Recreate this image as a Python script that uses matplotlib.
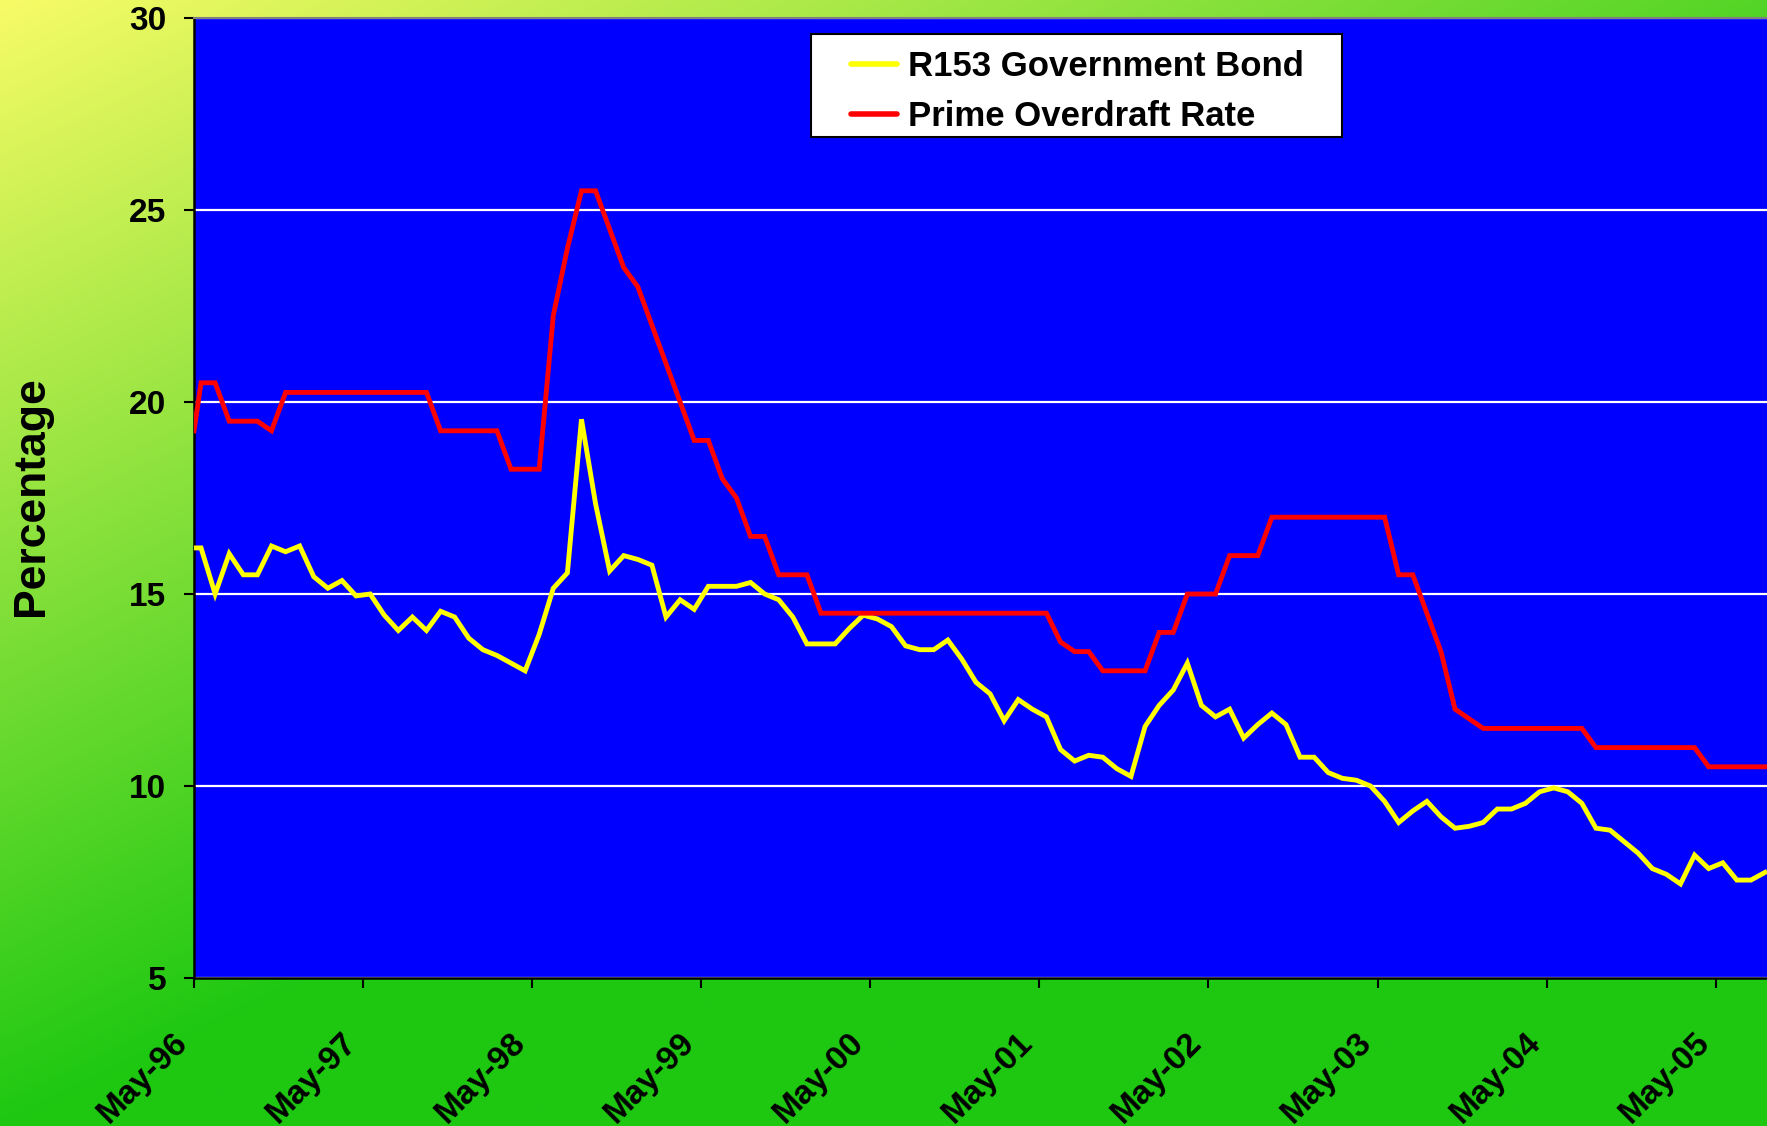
import numpy as np
import matplotlib
matplotlib.use("Agg")
import matplotlib.pyplot as plt
from matplotlib.patches import Rectangle

# ---------------- data ----------------
series_names = ["R153 Government Bond", "Prime Overdraft Rate"]
tick_labels = ["May-96", "May-97", "May-98", "May-99", "May-00",
               "May-01", "May-02", "May-03", "May-04", "May-05"]
tick_months = [0, 12, 24, 36, 48, 60, 72, 84, 96, 108]

# observation time in months after May-96 (first reading at start, then monthly mid-points)
obs_month = np.concatenate([[0.0], np.arange(112) + 0.5])

r153 = [16.2,
        16.2, 15.0, 16.05, 15.5, 15.5, 16.25, 16.1, 16.25, 15.45, 15.15,
        15.35, 14.95, 15.0, 14.45, 14.05, 14.4, 14.05, 14.55, 14.4, 13.85,
        13.55, 13.4, 13.2, 13.0, 13.95, 15.15, 15.55, 19.55, 17.35, 15.6,
        16.0, 15.9, 15.75, 14.4, 14.85, 14.6, 15.2, 15.2, 15.2, 15.3,
        15.0, 14.85, 14.4, 13.7, 13.7, 13.7, 14.1, 14.45, 14.35, 14.15,
        13.65, 13.55, 13.55, 13.8, 13.3, 12.7, 12.4, 11.7, 12.25, 12.0,
        11.8, 10.95, 10.65, 10.8, 10.75, 10.45, 10.25, 11.55, 12.1, 12.5,
        13.2, 12.1, 11.8, 12.0, 11.25, 11.6, 11.9, 11.6, 10.75, 10.75,
        10.35, 10.2, 10.15, 10.0, 9.6, 9.05, 9.35, 9.6, 9.2, 8.9,
        8.95, 9.05, 9.4, 9.4, 9.55, 9.85, 9.95, 9.85, 9.55, 8.9,
        8.85, 8.55, 8.25, 7.85, 7.7, 7.45, 8.2, 7.85, 8.0, 7.55,
        7.55, 7.75]

prime = [19.25,
         20.5, 20.5, 19.5, 19.5, 19.5, 19.25, 20.25, 20.25, 20.25, 20.25,
         20.25, 20.25, 20.25, 20.25, 20.25, 20.25, 20.25, 19.25, 19.25, 19.25,
         19.25, 19.25, 18.25, 18.25, 18.25, 22.25, 24.0, 25.5, 25.5, 24.5,
         23.5, 23.0, 22.0, 21.0, 20.0, 19.0, 19.0, 18.0, 17.5, 16.5,
         16.5, 15.5, 15.5, 15.5, 14.5, 14.5, 14.5, 14.5, 14.5, 14.5,
         14.5, 14.5, 14.5, 14.5, 14.5, 14.5, 14.5, 14.5, 14.5, 14.5,
         14.5, 13.75, 13.5, 13.5, 13.0, 13.0, 13.0, 13.0, 14.0, 14.0,
         15.0, 15.0, 15.0, 16.0, 16.0, 16.0, 17.0, 17.0, 17.0, 17.0,
         17.0, 17.0, 17.0, 17.0, 17.0, 15.5, 15.5, 14.5, 13.5, 12.0,
         11.75, 11.5, 11.5, 11.5, 11.5, 11.5, 11.5, 11.5, 11.5, 11.0,
         11.0, 11.0, 11.0, 11.0, 11.0, 11.0, 11.0, 10.5, 10.5, 10.5,
         10.5, 10.5]

y_ticks = [5, 10, 15, 20, 25, 30]
y_label = "Percentage"

# ---------------- figure ----------------
W, H = 1767, 1126
fig = plt.figure(figsize=(W / 100, H / 100), dpi=100)

# background gradient (yellow top-left -> green)
bg = fig.add_axes([0, 0, 1, 1], zorder=-10)
gh, gw = 226, 354
xx, yy = np.meshgrid(np.linspace(0, 1, gw), np.linspace(0, 1, gh))
t = np.clip(0.75 * xx + yy, 0, 1)[..., None]
c0 = np.array([247, 251, 102]) / 255
c1 = np.array([30, 200, 18]) / 255
img = c0 + t * (c1 - c0)
bg.imshow(img, extent=[0, 1, 0, 1], aspect="auto", origin="upper",
          interpolation="bilinear")
bg.set_axis_off()

FONT = "Liberation Sans"

ax = fig.add_axes([194 / W, (H - 978) / H, 1573 / W, 960 / H])
ax.set_facecolor("#0000FF")

ax.plot(obs_month, r153, color="#FFFF00", lw=3.5, label=series_names[0],
        solid_joinstyle="miter", zorder=3)
ax.plot(obs_month, prime, color="#FF0000", lw=3.5, label=series_names[1],
        solid_joinstyle="miter", zorder=4)

ax.set_xlim(0, 111.64)
ax.set_ylim(5, 30)

ax.set_yticks(y_ticks)
ax.set_yticklabels([str(v) for v in y_ticks], fontsize=24, fontweight="bold",
                   family=FONT)
ax.set_xticks(tick_months)
ax.set_xticklabels(tick_labels, fontsize=24, fontweight="bold", family=FONT,
                   rotation=45, ha="right", va="top")

ax.tick_params(axis="y", direction="out", length=7, width=1.5, pad=13,
               colors="black")
ax.tick_params(axis="x", direction="out", length=7, width=1.5, pad=28,
               colors="black")

ax.yaxis.grid(True, color="white", lw=1.6)
ax.xaxis.grid(False)
ax.set_axisbelow(True)

for s in ["left", "bottom"]:
    ax.spines[s].set_color("black")
    ax.spines[s].set_linewidth(1.8)
ax.spines["top"].set_color("#808080")
ax.spines["top"].set_linewidth(1.5)
ax.spines["right"].set_visible(False)

fig.text(31.5 / W, 1 - 496 / H, y_label, rotation=90, ha="center",
         va="center", fontsize=32, fontweight="bold", family=FONT)

# legend box
ax.add_patch(Rectangle((0.392, 0.876), 0.338, 0.107, transform=ax.transAxes,
                       facecolor="white", edgecolor="black", lw=1.5,
                       zorder=6, clip_on=False))
leg = ax.legend(loc="upper left", bbox_to_anchor=(0.4177, 0.9666),
                frameon=False, borderpad=0, borderaxespad=0,
                handlelength=1.32, handletextpad=0.32, labelspacing=0.49,
                prop={"family": FONT, "weight": "bold", "size": 25})
leg.set_zorder(7)
for h in leg.get_lines():
    h.set_linewidth(4)
    h.set_solid_capstyle("round")

fig.savefig("out.png", dpi=100)
